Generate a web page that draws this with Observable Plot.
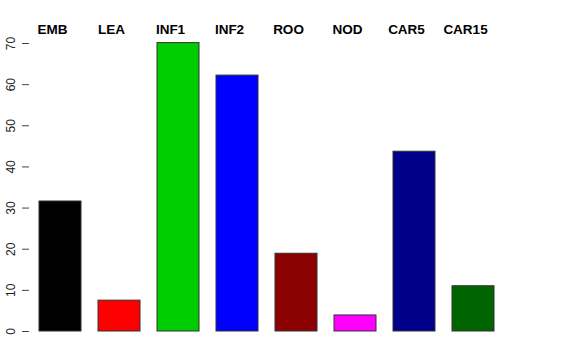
<!DOCTYPE html>
<html>
<head>
<meta charset="utf-8">
<script src="https://cdn.jsdelivr.net/npm/d3@7"></script>
<script src="https://cdn.jsdelivr.net/npm/@observablehq/plot@0.6"></script>
<style>
  html, body { margin: 0; padding: 0; background: #fff; }
  svg { display: block; }
</style>
</head>
<body>
<div id="chart"></div>
<script>
const categories = ["EMB", "LEA", "INF1", "INF2", "ROO", "NOD", "CAR5", "CAR15"];
const values = [31.6, 7.5, 70.1, 62.2, 18.9, 3.9, 43.7, 11.0];
const colors = ["#000000", "#FF0000", "#00CD00", "#0000FF", "#8B0000", "#FF00FF", "#00008B", "#006400"];
const yTicks = [0, 10, 20, 30, 40, 50, 60, 70];

const data = categories.map((c, i) => ({cat: c, value: values[i], color: colors[i]}));

const chart = Plot.plot({
  width: 576,
  height: 360,
  marginLeft: 29,
  marginRight: 72,
  marginTop: 43,
  marginBottom: 29,
  style: {fontFamily: "'Liberation Sans', Arial, sans-serif", background: "#fff"},
  x: {domain: categories, type: "band", paddingInner: 0.29, paddingOuter: 0.152, axis: null},
  y: {domain: [0, 70], axis: null},
  marks: [
    Plot.barY(data, {x: "cat", y: "value", fill: "color", stroke: "#333", strokeWidth: 1}),
    Plot.axisX({anchor: "top", tickSize: 0, tickPadding: 10, fontWeight: "bold", fontSize: 13.5, dx: -8, fill: "#000", label: null}),
    Plot.axisY({anchor: "left", ticks: yTicks, tickSize: 7, tickPadding: 8, tickRotate: -90, fontSize: 12, stroke: "#444", fill: "#222", line: true, label: null})
  ]
});
document.getElementById("chart").append(chart);
</script>
</body>
</html>
